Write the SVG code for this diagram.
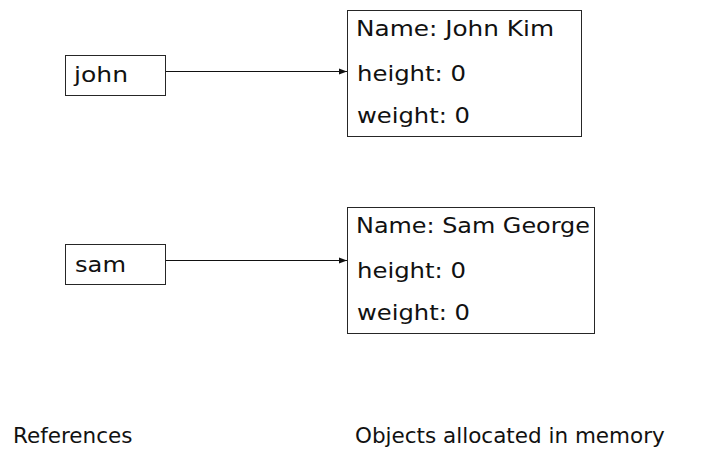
<svg xmlns="http://www.w3.org/2000/svg" width="708" height="452" viewBox="0 0 708 452">
  <style>
    .box { fill: #ffffff; stroke: #262626; stroke-width: 1; }
    .txt { font-family: "DejaVu Sans", Verdana, sans-serif; font-size: 20.5px; fill: #111111; }
    .cap { font-family: "DejaVu Sans", Verdana, sans-serif; font-size: 21.5px; fill: #111111; }
    .link { stroke: #111111; stroke-width: 1; fill: none; }
  </style>
  <defs>
    <marker id="head" viewBox="0 0 8 8" refX="8" refY="4" markerWidth="8" markerHeight="8" markerUnits="userSpaceOnUse" orient="auto">
      <path d="M0,1 L8,4 L0,7 Z" fill="#111111"/>
    </marker>
  </defs>
  <rect width="708" height="452" fill="#ffffff"/>

  <!-- reference variables -->
  <g id="ref-john">
    <rect class="box" x="65.5" y="55.5" width="100" height="40"/>
    <text class="txt" x="74" y="82" textLength="54" lengthAdjust="spacingAndGlyphs">john</text>
  </g>
  <g id="ref-sam">
    <rect class="box" x="65.5" y="244.5" width="100" height="40"/>
    <text class="txt" x="75" y="272" textLength="51" lengthAdjust="spacingAndGlyphs">sam</text>
  </g>

  <!-- objects on the heap -->
  <g id="obj-john">
    <rect class="box" x="347.5" y="10.5" width="234" height="126"/>
    <text class="txt" x="356" y="36" textLength="198" lengthAdjust="spacingAndGlyphs">Name: John Kim</text>
    <text class="txt" x="357" y="81" textLength="109" lengthAdjust="spacingAndGlyphs">height: 0</text>
    <text class="txt" x="357" y="123" textLength="113" lengthAdjust="spacingAndGlyphs">weight: 0</text>
  </g>
  <g id="obj-sam">
    <rect class="box" x="347.5" y="207.5" width="247" height="126"/>
    <text class="txt" x="356" y="233" textLength="234" lengthAdjust="spacingAndGlyphs">Name: Sam George</text>
    <text class="txt" x="357" y="278" textLength="109" lengthAdjust="spacingAndGlyphs">height: 0</text>
    <text class="txt" x="357" y="320" textLength="113" lengthAdjust="spacingAndGlyphs">weight: 0</text>
  </g>

  <!-- pointers from variables to objects -->
  <g id="connectors">
    <line class="link" x1="166" y1="71.5" x2="347" y2="71.5" marker-end="url(#head)"/>
    <line class="link" x1="166" y1="260.5" x2="347" y2="260.5" marker-end="url(#head)"/>
  </g>

  <!-- column captions -->
  <g id="captions">
    <text class="cap" x="13" y="443">References</text>
    <text class="cap" x="355" y="443">Objects allocated in memory</text>
  </g>
</svg>
